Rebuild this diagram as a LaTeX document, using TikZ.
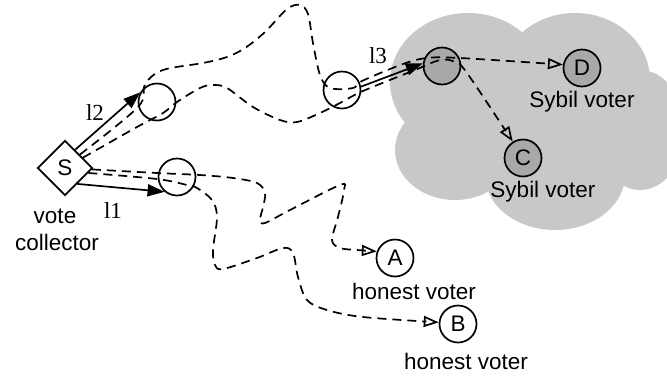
\documentclass[tikz,border=0pt]{standalone}
\usepackage{fontspec}
\setmainfont{Liberation Sans}
\newfontfamily\lserif{Liberation Serif}
\usetikzlibrary{shapes.geometric,arrows.meta}
\definecolor{cloudgray}{RGB}{200,200,200}
\definecolor{nodegray}{RGB}{168,168,168}
\begin{document}
\begin{tikzpicture}[x=1pt,y=-1pt,line width=1.7pt,
  font=\fontsize{22.5}{27}\selectfont,
  vertex/.style={circle,draw,minimum size=37pt,inner sep=0pt},
  sybil/.style={vertex,fill=nodegray},
  collector/.style={diamond,draw,minimum size=55pt,inner sep=0pt},
  walk/.style={dash pattern=on 9pt off 6pt,-{Triangle[open,length=15pt,width=11pt]}},
  edgearrow/.style={-{Triangle[length=17pt,width=12pt]}},
  lab/.style={anchor=base,inner sep=0pt},
  linklab/.style={lab,font=\lserif\fontsize{23}{27}\selectfont}]
\useasboundingbox (0,0) rectangle (667,376);
% cloud
\begin{scope}
\clip (0,0) rectangle (667,376);
\fill[cloudgray] (468,82) ellipse [x radius=78,y radius=69]
  (575,80) ellipse [x radius=75,y radius=67]
  (640,130) ellipse [x radius=45,y radius=60]
  (555,175) ellipse [x radius=70,y radius=55]
  (455,150) ellipse [x radius=60,y radius=50]
  (530,130) ellipse [x radius=60,y radius=50];
\end{scope}
% nodes
\node[collector] (S) at (65,168) {S};
\node[vertex] (r1) at (157,102) {};
\node[vertex] (r2) at (177,177) {};
\node[vertex] (r3) at (342,90) {};
\node[sybil] (r4) at (442,66) {};
\node[sybil] (D) at (582,68) {D};
\node[sybil] (C) at (523,158) {C};
\node[vertex] (A) at (395,258) {A};
\node[vertex] (B) at (458,324) {B};
% labels
\node[lab] (vote) at (55,223) {vote};
\node[lab] (coll) at (57,250) {collector};
\node[lab] (sd) at (582,107) {Sybil voter};
\node[lab] (sc) at (543,197) {Sybil voter};
\node[lab] (ha) at (414,299) {honest voter};
\node[lab] (hb) at (466,369) {honest voter};
\node[linklab] (l2) at (95,120) {l2};
\node[linklab] (l1) at (113,218) {l1};
\node[linklab] (l3) at (378,63) {l3};
% random walks
\draw[walk] plot[smooth,tension=0.55] coordinates {(S.42) (138,107) (145,84) (163,70) (203,63) (227,57) (245,48) (265,32) (287,9) (300,5) (308,14) (313,43) (320,75) (330,88) (353,88) (362,81) (403,64) (427,58) (460,58) (D.170)};
\draw[walk] plot[smooth,tension=0.55] coordinates {(S.30) (137,127) (163,113) (177,102) (200,88) (213,85) (227,88) (253,107) (280,120) (297,122) (320,113) (340,103) (363,91) (415,70) (440,60) (455,62) (467,73) (C.122)};
\draw[walk] plot[smooth,tension=0.55] coordinates {(S.-3) (157,173) (200,175) (233,178) (257,183) (265,193) (263,207) (260,220) (265,223) (290,210) (340,185) (344,190) (338,217) (332,240) (340,248) (357,250) (A.160)};
\draw[walk] plot[smooth,tension=0.55] coordinates {(S.-12) (157,179) (187,185) (197,188) (212,200) (217,217) (213,250) (215,265) (223,269) (257,258) (283,248) (293,253) (298,277) (307,300) (327,310) (363,317) (B.175)};
% links
\draw[edgearrow] (S.61) -- (r1.150);
\draw[edgearrow] (S.-52) -- (r2.230);
\draw[edgearrow] (r3.10) -- (r4.172);
\end{tikzpicture}
\end{document}
